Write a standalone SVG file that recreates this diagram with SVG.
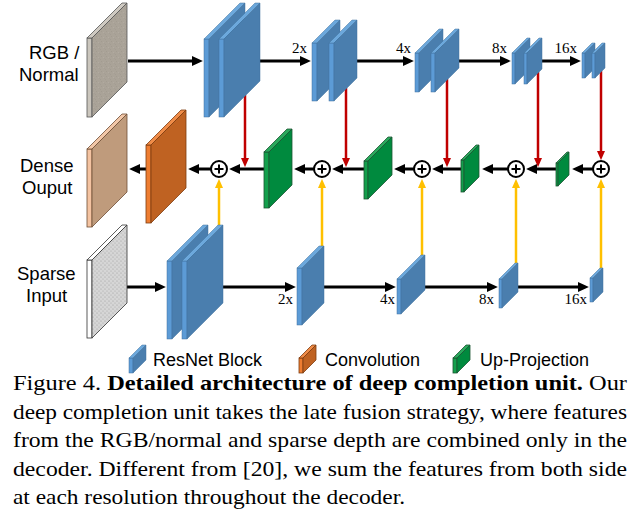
<svg xmlns="http://www.w3.org/2000/svg" width="636" height="520" viewBox="0 0 636 520">
<style>
.lbl{font-family:"Liberation Sans",Arial,sans-serif;font-size:18.5px;fill:#000}
.scale{font-family:"Liberation Serif","Times New Roman",serif;font-size:15px;fill:#000}
.cap{font-family:"Liberation Serif","Times New Roman",serif;font-size:22px;fill:#000}
.b{font-weight:bold}
.blue .s{fill:#5c9bd6}.blue .t{fill:#6ca8dc}.blue .f{fill:#4a7eae}.blue *{stroke:#41729e;stroke-width:0.5}
.green .s{fill:#13a04c}.green .t{fill:#2aa85c}.green .f{fill:#008a3e}.green *{stroke:#1c5533;stroke-width:0.8}
.orange .s{fill:#ee7d31}.orange .t{fill:#f08c48}.orange .f{fill:#bf6222}.orange *{stroke:#7e3c10;stroke-width:0.8}
.peach .s{fill:#f4c3a1}.peach .t{fill:#f2c7a8}.peach .f{fill:#bf9b7c}.peach *{stroke:#6e4e36;stroke-width:0.8}
.gray .s{fill:#cbc6bd}.gray .t{fill:#cfcac2}.gray .f{fill:url(#noise)}.gray *{stroke:#555;stroke-width:0.8}
.sparse .s{fill:#fff}.sparse .t{fill:#fff}.sparse .f{fill:url(#dots)}.sparse *{stroke:#333;stroke-width:0.8}
.blk{stroke:#000;stroke-width:3;fill:none}
.red{stroke:#c00000;stroke-width:2.5;fill:none}
.yel{stroke:#ffc000;stroke-width:2.5;fill:none}
.sum circle{fill:#fff;stroke:#000;stroke-width:2}
.sum path{stroke:#000;stroke-width:2;fill:none}
</style>
<defs>
<pattern id="noise" width="5" height="5" patternUnits="userSpaceOnUse"><rect width="5" height="5" fill="#aaa398"/><rect x="1" y="1" width="1" height="1" fill="#a29b90"/><rect x="3" y="2" width="1" height="1" fill="#b2aba1"/><rect x="0" y="4" width="1" height="1" fill="#a39c92"/><rect x="4" y="3" width="1" height="1" fill="#a59e94"/></pattern>
<pattern id="dots" width="4" height="4" patternUnits="userSpaceOnUse"><rect width="4" height="4" fill="#d6d6d6"/><circle cx="1" cy="1" r="0.6" fill="#9a9a9a"/><circle cx="3" cy="3" r="0.6" fill="#a8a8a8"/></pattern>
<marker id="ak" viewBox="0 0 10 10" refX="1" refY="5" markerWidth="11" markerHeight="10" markerUnits="userSpaceOnUse" orient="auto" preserveAspectRatio="none"><path d="M0,0 L10,5 L0,10 z" fill="#000"/></marker>
<marker id="ar" viewBox="0 0 10 10" refX="1" refY="5" markerWidth="9" markerHeight="8" markerUnits="userSpaceOnUse" orient="auto" preserveAspectRatio="none"><path d="M0,0 L10,5 L0,10 z" fill="#c00000"/></marker>
<marker id="ay" viewBox="0 0 10 10" refX="1" refY="5" markerWidth="9" markerHeight="8" markerUnits="userSpaceOnUse" orient="auto" preserveAspectRatio="none"><path d="M0,0 L10,5 L0,10 z" fill="#ffc000"/></marker>
</defs>

<g id="connectors">
<!-- top row -->
<line class="blk" x1="128" y1="61" x2="193" y2="61" marker-end="url(#ak)"/>
<line class="blk" x1="260" y1="61" x2="301" y2="61" marker-end="url(#ak)"/>
<line class="blk" x1="357" y1="61" x2="404" y2="61" marker-end="url(#ak)"/>
<line class="blk" x1="459" y1="61" x2="501" y2="61" marker-end="url(#ak)"/>
<line class="blk" x1="542" y1="61" x2="571" y2="61" marker-end="url(#ak)"/>
<!-- bottom row -->
<line class="blk" x1="127" y1="287" x2="156" y2="287" marker-end="url(#ak)"/>
<line class="blk" x1="223" y1="287" x2="286" y2="287" marker-end="url(#ak)"/>
<line class="blk" x1="324" y1="287" x2="386" y2="287" marker-end="url(#ak)"/>
<line class="blk" x1="425" y1="287" x2="488" y2="287" marker-end="url(#ak)"/>
<line class="blk" x1="518" y1="287" x2="579" y2="287" marker-end="url(#ak)"/>
<!-- middle row -->
<line class="blk" x1="593" y1="169" x2="582" y2="169" marker-end="url(#ak)"/>
<line class="blk" x1="556" y1="169" x2="536" y2="169" marker-end="url(#ak)"/>
<line class="blk" x1="508" y1="169" x2="492" y2="169" marker-end="url(#ak)"/>
<line class="blk" x1="461" y1="169" x2="442" y2="169" marker-end="url(#ak)"/>
<line class="blk" x1="414" y1="169" x2="404" y2="169" marker-end="url(#ak)"/>
<line class="blk" x1="364" y1="169" x2="342" y2="169" marker-end="url(#ak)"/>
<line class="blk" x1="314" y1="169" x2="304" y2="169" marker-end="url(#ak)"/>
<line class="blk" x1="264" y1="169" x2="239" y2="169" marker-end="url(#ak)"/>
<line class="blk" x1="211" y1="169" x2="198" y2="169" marker-end="url(#ak)"/>
<line class="blk" x1="146" y1="169" x2="139" y2="169" marker-end="url(#ak)"/>
<!-- red (RGB skip) -->
<line class="red" x1="245" y1="95" x2="245" y2="159" marker-end="url(#ar)"/>
<line class="red" x1="346" y1="88" x2="346" y2="159" marker-end="url(#ar)"/>
<line class="red" x1="447" y1="79" x2="447" y2="159" marker-end="url(#ar)"/>
<line class="red" x1="538" y1="72" x2="538" y2="159" marker-end="url(#ar)"/>
<line class="red" x1="601" y1="71" x2="601" y2="152" marker-end="url(#ar)"/>
<!-- yellow (sparse skip) -->
<line class="yel" x1="219" y1="227" x2="219" y2="187" marker-end="url(#ay)"/>
<line class="yel" x1="322" y1="248" x2="322" y2="187" marker-end="url(#ay)"/>
<line class="yel" x1="422" y1="257" x2="422" y2="187" marker-end="url(#ay)"/>
<line class="yel" x1="516" y1="265" x2="516" y2="187" marker-end="url(#ay)"/>
<line class="yel" x1="601" y1="270" x2="601" y2="187" marker-end="url(#ay)"/>
</g>

<!-- row labels -->
<g id="label-rgb"><text class="lbl" x="29" y="59">RGB /</text><text class="lbl" x="19" y="81">Normal</text></g>
<g id="label-dense"><text class="lbl" x="20" y="172">Dense</text><text class="lbl" x="22" y="194">Ouput</text></g>
<g id="label-sparse"><text class="lbl" x="17" y="280">Sparse</text><text class="lbl" x="26" y="302">Input</text></g>

<!-- top row -->
<g id="rgb-input" class="gray"><rect class="s" x="87" y="38" width="5" height="79"/><polygon class="t" points="87,38 122,3 127,3 92,38"/><polygon class="f" points="92,38 127,3 127,82 92,117"/></g>
<g id="enc-rgb-1" class="blue">
<rect class="s" x="204" y="39" width="5" height="78"/><polygon class="t" points="204,39 240,3 245,3 209,39"/><polygon class="f" points="209,39 245,3 245,81 209,117"/>
<rect class="s" x="219" y="39" width="5" height="78"/><polygon class="t" points="219,39 255,3 260,3 224,39"/><polygon class="f" points="224,39 260,3 260,81 224,117"/></g>
<g id="enc-rgb-2" class="blue">
<rect class="s" x="312" y="43" width="5" height="58"/><polygon class="t" points="312,43 335,20 340,20 317,43"/><polygon class="f" points="317,43 340,20 340,78 317,101"/>
<rect class="s" x="329" y="43" width="5" height="58"/><polygon class="t" points="329,43 352,20 357,20 334,43"/><polygon class="f" points="334,43 357,20 357,78 334,101"/></g>
<g id="enc-rgb-3" class="blue">
<rect class="s" x="415" y="53" width="4" height="39"/><polygon class="t" points="415,53 439,29 443,29 419,53"/><polygon class="f" points="419,53 443,29 443,68 419,92"/>
<rect class="s" x="431" y="53" width="4" height="39"/><polygon class="t" points="431,53 455,29 459,29 435,53"/><polygon class="f" points="435,53 459,29 459,68 435,92"/></g>
<g id="enc-rgb-4" class="blue">
<rect class="s" x="512" y="53" width="3" height="31"/><polygon class="t" points="512,53 527,38 530,38 515,53"/><polygon class="f" points="515,53 530,38 530,69 515,84"/>
<rect class="s" x="524" y="53" width="3" height="31"/><polygon class="t" points="524,53 539,38 542,38 527,53"/><polygon class="f" points="527,53 542,38 542,69 527,84"/></g>
<g id="enc-rgb-5" class="blue">
<rect class="s" x="582" y="53" width="3" height="25"/><polygon class="t" points="582,53 592,43 595,43 585,53"/><polygon class="f" points="585,53 595,43 595,68 585,78"/>
<rect class="s" x="592" y="53" width="3" height="25"/><polygon class="t" points="592,53 602,43 605,43 595,53"/><polygon class="f" points="595,53 605,43 605,68 595,78"/></g>
<g id="scale-top">
<text class="scale" x="307" y="53" text-anchor="end">2x</text>
<text class="scale" x="411" y="53" text-anchor="end">4x</text>
<text class="scale" x="507" y="53" text-anchor="end">8x</text>
<text class="scale" x="577" y="53" text-anchor="end">16x</text>
</g>

<!-- middle row -->
<g id="dense-output" class="peach"><rect class="s" x="87" y="149" width="5" height="78"/><polygon class="t" points="87,149 122,114 127,114 92,149"/><polygon class="f" points="92,149 127,114 127,192 92,227"/></g>
<g id="conv" class="orange"><rect class="s" x="146" y="145" width="5" height="78"/><polygon class="t" points="146,145 181,110 186,110 151,145"/><polygon class="f" points="151,145 186,110 186,188 151,223"/></g>
<g id="up-1" class="green"><rect class="s" x="264" y="152" width="5" height="56"/><polygon class="t" points="264,152 287,129 292,129 269,152"/><polygon class="f" points="269,152 292,129 292,185 269,208"/></g>
<g id="up-2" class="green"><rect class="s" x="364" y="161" width="4" height="38"/><polygon class="t" points="364,161 388,137 392,137 368,161"/><polygon class="f" points="368,161 392,137 392,175 368,199"/></g>
<g id="up-3" class="green"><rect class="s" x="461" y="160" width="3" height="32"/><polygon class="t" points="461,160 476,145 479,145 464,160"/><polygon class="f" points="464,160 479,145 479,177 464,192"/></g>
<g id="up-4" class="green"><rect class="s" x="556" y="163" width="2" height="23"/><polygon class="t" points="556,163 567,152 569,152 558,163"/><polygon class="f" points="558,163 569,152 569,175 558,186"/></g>
<g id="sum-1" class="sum"><circle cx="219" cy="169" r="8"/><path d="M214.5,169 H223.5 M219,164.5 V173.5"/></g>
<g id="sum-2" class="sum"><circle cx="322" cy="169" r="8"/><path d="M317.5,169 H326.5 M322,164.5 V173.5"/></g>
<g id="sum-3" class="sum"><circle cx="422" cy="169" r="8"/><path d="M417.5,169 H426.5 M422,164.5 V173.5"/></g>
<g id="sum-4" class="sum"><circle cx="516" cy="169" r="8"/><path d="M511.5,169 H520.5 M516,164.5 V173.5"/></g>
<g id="sum-5" class="sum"><circle cx="601" cy="169" r="8"/><path d="M596.5,169 H605.5 M601,164.5 V173.5"/></g>

<!-- bottom row -->
<g id="sparse-input" class="sparse"><rect class="s" x="87" y="260" width="5" height="78"/><polygon class="t" points="87,260 122,225 127,225 92,260"/><polygon class="f" points="92,260 127,225 127,303 92,338"/></g>
<g id="enc-sp-1" class="blue">
<rect class="s" x="167" y="261" width="5" height="78"/><polygon class="t" points="167,261 203,225 208,225 172,261"/><polygon class="f" points="172,261 208,225 208,303 172,339"/>
<rect class="s" x="182" y="261" width="5" height="78"/><polygon class="t" points="182,261 218,225 223,225 187,261"/><polygon class="f" points="187,261 223,225 223,303 187,339"/></g>
<g id="enc-sp-2" class="blue"><rect class="s" x="297" y="268" width="5" height="57"/><polygon class="t" points="297,268 319,246 324,246 302,268"/><polygon class="f" points="302,268 324,246 324,303 302,325"/></g>
<g id="enc-sp-3" class="blue"><rect class="s" x="397" y="279" width="4" height="35"/><polygon class="t" points="397,279 421,255 425,255 401,279"/><polygon class="f" points="401,279 425,255 425,290 401,314"/></g>
<g id="enc-sp-4" class="blue"><rect class="s" x="499" y="279" width="3" height="29"/><polygon class="t" points="499,279 515,263 518,263 502,279"/><polygon class="f" points="502,279 518,263 518,292 502,308"/></g>
<g id="enc-sp-5" class="blue"><rect class="s" x="590" y="278" width="3" height="24"/><polygon class="t" points="590,278 600,268 603,268 593,278"/><polygon class="f" points="593,278 603,268 603,292 593,302"/></g>
<g id="scale-bottom">
<text class="scale" x="293" y="304" text-anchor="end">2x</text>
<text class="scale" x="395" y="304" text-anchor="end">4x</text>
<text class="scale" x="494" y="304" text-anchor="end">8x</text>
<text class="scale" x="587" y="304" text-anchor="end">16x</text>
</g>

<!-- legend -->
<g id="legend">
<g class="blue"><rect class="s" x="129" y="358" width="4" height="15"/><polygon class="t" points="129,358 142,345 146,345 133,358"/><polygon class="f" points="133,358 146,345 146,360 133,373"/></g>
<text class="lbl" x="153" y="366" style="font-size:18px">ResNet Block</text>
<g class="orange"><rect class="s" x="299" y="358" width="4" height="15"/><polygon class="t" points="299,358 312,345 316,345 303,358"/><polygon class="f" points="303,358 316,345 316,360 303,373"/></g>
<text class="lbl" x="325" y="366" style="font-size:18px">Convolution</text>
<g class="green"><rect class="s" x="453" y="358" width="4" height="15"/><polygon class="t" points="453,358 466,345 470,345 457,358"/><polygon class="f" points="457,358 470,345 470,360 457,373"/></g>
<text class="lbl" x="480" y="366" style="font-size:18px">Up-Projection</text>
</g>

<!-- caption -->
<g id="caption">
<text class="cap" x="13" y="390" textLength="614" lengthAdjust="spacingAndGlyphs">Figure 4. <tspan class="b">Detailed architecture of deep completion unit.</tspan>  Our</text>
<text class="cap" x="13" y="419" textLength="614" lengthAdjust="spacingAndGlyphs">deep completion unit takes the late fusion strategy, where features</text>
<text class="cap" x="13" y="447" textLength="614" lengthAdjust="spacingAndGlyphs">from the RGB/normal and sparse depth are combined only in the</text>
<text class="cap" x="13" y="476" textLength="614" lengthAdjust="spacingAndGlyphs">decoder. Different from [20], we sum the features from both side</text>
<text class="cap" x="13" y="504" textLength="392" lengthAdjust="spacingAndGlyphs">at each resolution throughout the decoder.</text>
</g>
</svg>
